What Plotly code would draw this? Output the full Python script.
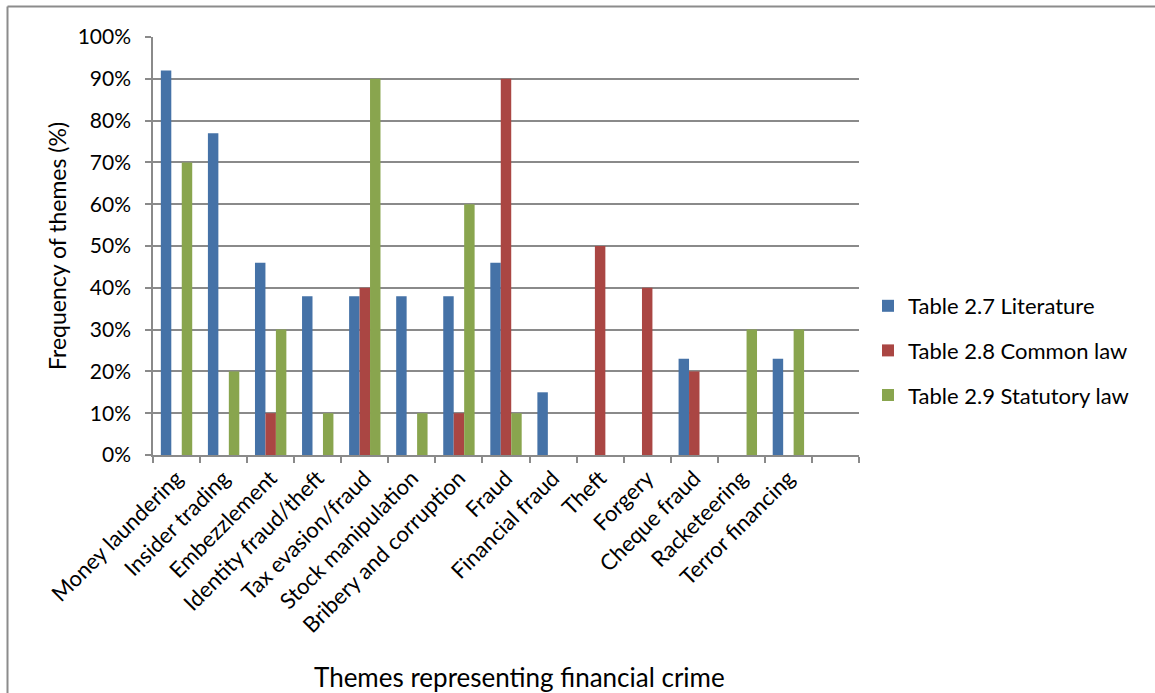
import plotly.graph_objects as go

# Themes of financial crime (last slot left empty on the category axis)
themes = [
    "Money laundering", "Insider trading", "Embezzlement", "Identity fraud/theft",
    "Tax evasion/fraud", "Stock manipulation", "Bribery and corruption", "Fraud",
    "Financial fraud", "Theft", "Forgery", "Cheque fraud", "Racketeering",
    "Terror financing", " ",
]

# Frequency of each theme (%) per source table
literature = [92, 77, 46, 38, 38, 38, 38, 46, 15, 0, 0, 23, 0, 23, None]
common_law = [0, 0, 10, 0, 40, 0, 10, 90, 0, 50, 40, 20, 0, 0, None]
statutory_law = [70, 20, 30, 10, 90, 10, 60, 10, 0, 0, 0, 0, 30, 30, None]

series_names = ["Table 2.7 Literature", "Table 2.8 Common law", "Table 2.9 Statutory law"]
series_colors = ["#4572A7", "#AA4643", "#89A54E"]

FONT = "Lato"
GRID = "#8a8a8a"

fig = go.Figure()
for i, (name, vals, color) in enumerate(zip(series_names, [literature, common_law, statutory_law], series_colors)):
    fig.add_trace(go.Bar(
        x=themes,
        y=[v / 100 if v is not None else None for v in vals],
        name=name,
        legendgroup=f"g{i}",
        marker=dict(color=color, line=dict(width=0)),
    ))

# Plot area in pixels: x 153..859, y 37..455
W, H = 1155, 693
L, R, T, B = 153, 859, 37, 455
pw, ph = R - L, B - T

def px_x(p):
    return (p - L) / pw

def px_y(p):
    return (B - p) / ph

fig.update_layout(
    width=W, height=H,
    margin=dict(l=L, r=W - R, t=T, b=H - B, pad=0),
    paper_bgcolor="white",
    plot_bgcolor="white",
    barmode="group",
    bargap=1 / 3,
    bargroupgap=0,
    font=dict(family=FONT, size=20, color="#000000"),
    legend=dict(
        x=px_x(868), y=px_y(285), xanchor="left", yanchor="top",
        font=dict(family=FONT, size=22, color="#000000"),
        tracegroupgap=13, itemsizing="constant",
        bgcolor="rgba(0,0,0,0)",
    ),
    xaxis=dict(
        type="category",
        tickangle=-45,
        tickson="boundaries",
        ticks="outside", ticklen=6, tickcolor=GRID, tickwidth=1.5,
        showline=True, linecolor=GRID, linewidth=1.5,
        showgrid=False,
        tickfont=dict(family=FONT, size=22, color="#000000"),
        automargin=False,
    ),
    yaxis=dict(
        range=[0, 1], dtick=0.1, tickformat=".0%",
        ticks="outside", ticklen=6, tickcolor=GRID, tickwidth=1.5,
        showline=True, linecolor=GRID, linewidth=1.5,
        showgrid=True, gridcolor=GRID, gridwidth=1.5,
        zeroline=False,
        ticklabelstandoff=10,
        tickfont=dict(family=FONT, size=21, color="#000000"),
        automargin=False,
    ),
    annotations=[
        dict(text="Themes representing financial crime", xref="paper", yref="paper",
             x=px_x(519), y=px_y(677), xanchor="center", yanchor="middle",
             showarrow=False, font=dict(family=FONT, size=26, color="#000000")),
        dict(text="Frequency of themes (%)", xref="paper", yref="paper",
             x=px_x(57), y=px_y(246), xanchor="center", yanchor="middle",
             textangle=-90, showarrow=False,
             font=dict(family=FONT, size=23, color="#000000")),
    ],
    shapes=[
        # chart frame: top and left edges
        dict(type="line", xref="paper", yref="paper",
             x0=px_x(7.5), x1=px_x(W + 5), y0=px_y(6.5), y1=px_y(6.5),
             line=dict(color="#8c8c8c", width=2)),
        dict(type="line", xref="paper", yref="paper",
             x0=px_x(7.5), x1=px_x(7.5), y0=px_y(6.5), y1=px_y(H + 5),
             line=dict(color="#8c8c8c", width=2)),
    ],
)

fig.write_html("out.html")
